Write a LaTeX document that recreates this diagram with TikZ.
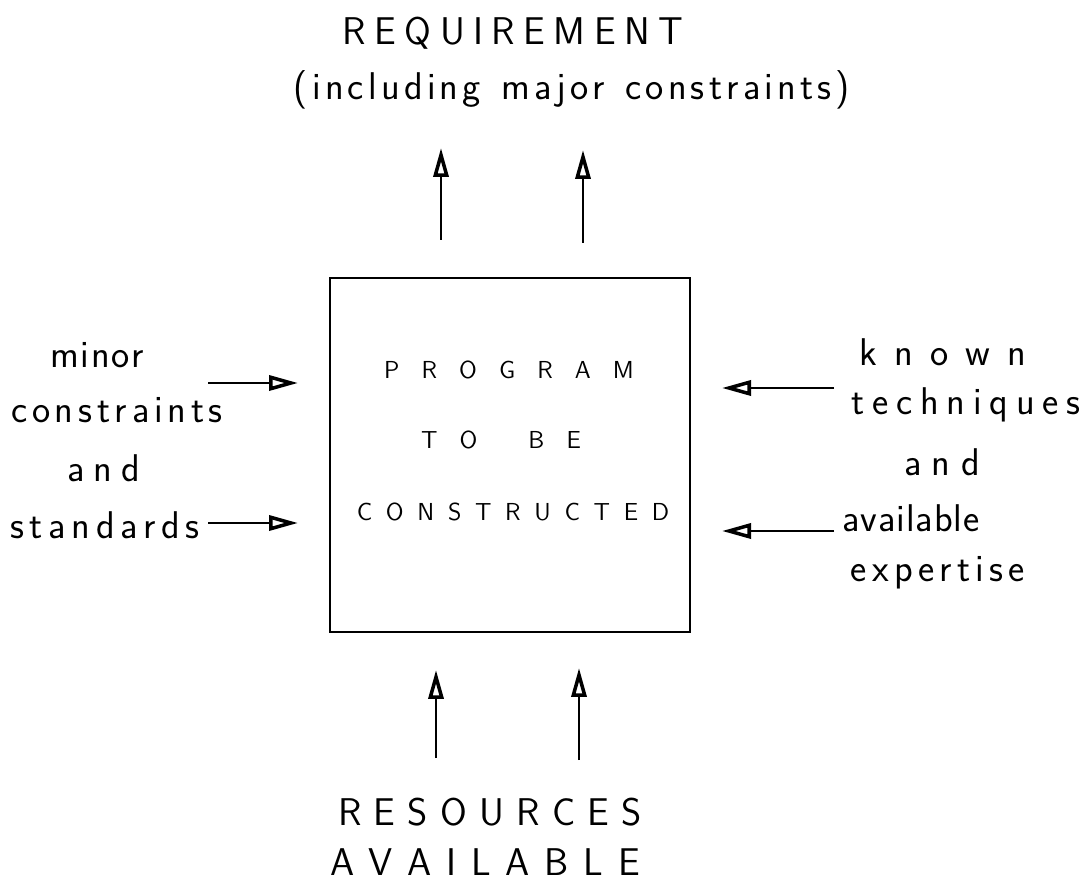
\documentclass[tikz,border=0pt]{standalone}
\usepackage{fontspec}
\usetikzlibrary{arrows.meta}

% spread the letters of a word: \spr{gap}{word}, use ~ for a space
\newcommand\spr[2]{\def\sprsep{\kern#1}\sprfirst#2\relax}
\def\sprfirst#1{#1\sprnext}
\def\sprnext#1{\ifx\relax#1\else\sprsep#1\expandafter\sprnext\fi}

\tikzset{
  hand/.style={inner sep=0pt, font=\fontsize{22}{24}\selectfont\sffamily},
  boxtext/.style={inner sep=0pt, font=\fontsize{14}{16}\selectfont\sffamily},
  flow/.style={line width=1.6pt, -{Triangle[open, length=0.58cm, width=0.3cm, line width=2pt]}}
}

\begin{document}
\begin{tikzpicture}[x=0.02cm, y=-0.02cm]
  \useasboundingbox (0,0) rectangle (1085,884);

  % the program box
  \node[draw, line width=1.2pt, minimum width=7.2cm, minimum height=7.08cm] (prog) at (510,455) {};
  \node[boxtext] (p1) at (509,370) {\spr{12.6pt}{PROGRAM}};
  \node[boxtext] (p2) at (501,440) {\spr{12.6pt}{TO}\hspace{29pt}\spr{12.6pt}{BE}};
  \node[boxtext] (p3) at (513,512) {\spr{7.8pt}{CONSTRUCTED}};

  % top
  \node[hand] (req) at (513,33) {\spr{4.8pt}{REQUIREMENT}};
  \node[hand] (incl) at (572,90) {\spr{2.4pt}{(including~major~constraints)}};

  % left
  \node[hand] (minor) at (97,355) {\spr{1pt}{minor}};
  \node[hand] (cons) at (117,410) {\spr{2.7pt}{constraints}};
  \node[hand] (and1) at (104,468) {\spr{5pt}{and}};
  \node[hand] (stand) at (105,525) {\spr{3.2pt}{standards}};

  % right
  \node[hand] (known) at (943,352) {\spr{9.7pt}{known}};
  \node[hand] (tech) at (966,405) {\spr{4.4pt}{techniques}};
  \node[hand] (and2) at (942,462) {\spr{6pt}{and}};
  \node[hand] (avail) at (911,518) {\spr{0.5pt}{available}};
  \node[hand] (exp) at (938,573) {\spr{3pt}{expertise}};

  % bottom
  \node[hand] (res) at (490,812) {\spr{7pt}{RESOURCES}};
  \node[hand] (ava) at (485,862) {\spr{8.4pt}{AVAILABLE}};

  % arrow ends
  \coordinate (ta1) at (441,240); \coordinate (tb1) at (441,148);
  \coordinate (ta2) at (583,243); \coordinate (tb2) at (583,150);
  \coordinate (la1) at (208,383); \coordinate (lb1) at (298,383);
  \coordinate (la2) at (208,523); \coordinate (lb2) at (298,523);
  \coordinate (ra1) at (834,388); \coordinate (rb1) at (722,388);
  \coordinate (ra2) at (834,531); \coordinate (rb2) at (722,531);
  \coordinate (ba1) at (436,758); \coordinate (bb1) at (436,670);
  \coordinate (ba2) at (579,760); \coordinate (bb2) at (579,668);

  \foreach \s in {t,l,r,b}{
    \draw[flow] (\s a1) -- (\s b1);
    \draw[flow] (\s a2) -- (\s b2);
  }
\end{tikzpicture}
\end{document}
